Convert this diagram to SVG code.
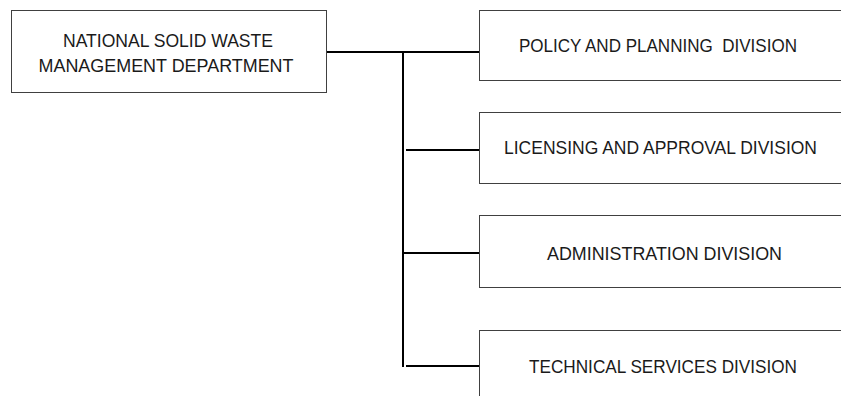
<svg xmlns="http://www.w3.org/2000/svg" width="841" height="396" viewBox="0 0 841 396">
<style>
.box{fill:#fff;stroke:#404040;stroke-width:1}
.t{font-family:"Liberation Sans",Arial,sans-serif;font-size:17.5px;fill:#1a1a1a;text-anchor:middle}
.c{stroke:#000;stroke-width:2;fill:none}
</style>
<rect width="841" height="396" fill="#fff"/>
<g id="connectors">
<line class="c" x1="326" y1="52" x2="480" y2="52"/>
<line class="c" x1="403" y1="52" x2="403" y2="367"/>
<line class="c" x1="406" y1="150" x2="480" y2="150"/>
<line class="c" x1="403" y1="253" x2="480" y2="253"/>
<line class="c" x1="406" y1="366" x2="480" y2="366"/>
</g>
<g id="main">
<rect class="box" x="11.5" y="10.5" width="315" height="82"/>
<text class="t" x="168" y="46.5" textLength="210" lengthAdjust="spacingAndGlyphs">NATIONAL SOLID WASTE</text>
<text class="t" x="166" y="72" textLength="255" lengthAdjust="spacingAndGlyphs">MANAGEMENT DEPARTMENT</text>
</g>
<g id="policy">
<rect class="box" x="479.5" y="10.5" width="370" height="70"/>
<text class="t" x="658" y="52" xml:space="preserve" textLength="278" lengthAdjust="spacingAndGlyphs">POLICY AND PLANNING  DIVISION</text>
</g>
<g id="licensing">
<rect class="box" x="479.5" y="112.5" width="370" height="71"/>
<text class="t" x="660.5" y="154" textLength="313" lengthAdjust="spacingAndGlyphs">LICENSING AND APPROVAL DIVISION</text>
</g>
<g id="administration">
<rect class="box" x="479.5" y="215.5" width="370" height="72"/>
<text class="t" x="664.5" y="260" textLength="235" lengthAdjust="spacingAndGlyphs">ADMINISTRATION DIVISION</text>
</g>
<g id="technical">
<rect class="box" x="479.5" y="330.5" width="370" height="80"/>
<text class="t" x="663" y="372.5" textLength="268" lengthAdjust="spacingAndGlyphs">TECHNICAL SERVICES DIVISION</text>
</g>
</svg>
